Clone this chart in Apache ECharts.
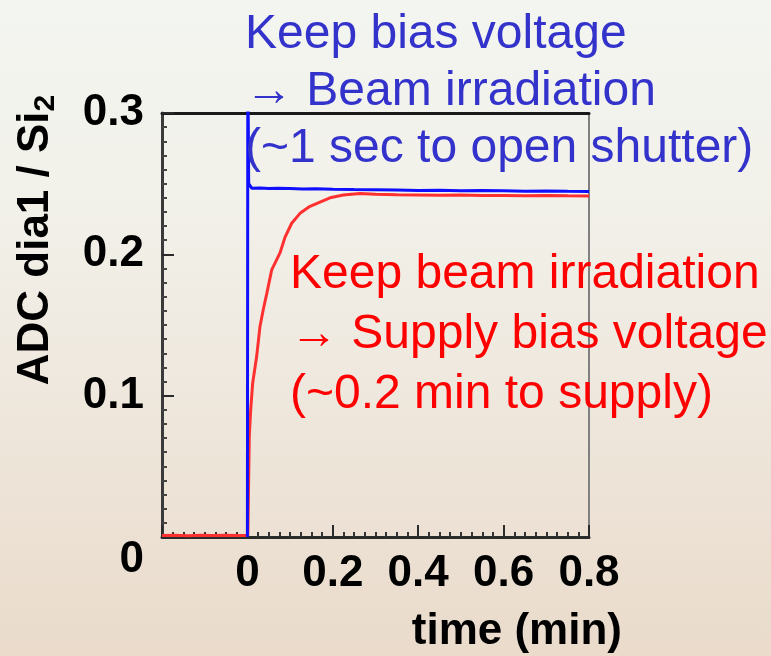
<!DOCTYPE html>
<html>
<head>
<meta charset="utf-8">
<script src="https://cdn.jsdelivr.net/npm/echarts/dist/echarts.min.js"></script>
<style>
  html, body { margin: 0; padding: 0; }
  body {
    width: 771px; height: 656px; overflow: hidden;
    background: linear-gradient(180deg, #F3F5F0 0%, #F2F1EA 30%, #EEE6DB 65%, #EADBCB 100%);
  }
  #chart { width: 771px; height: 656px; }
</style>
</head>
<body>
<div id="chart"></div>
<script>
// Bias kept on, beam switched on at t = 0 (blue trace)
const timeBias  = [0, 0.001, 0.003, 0.01, 0.03, 0.05, 0.07, 0.10, 0.13, 0.16, 0.20, 0.25, 0.30, 0.35, 0.40, 0.45, 0.50, 0.55, 0.60, 0.65, 0.70, 0.75, 0.80];
const ratioBias = [0, 0.340, 0.250, 0.2468, 0.2470, 0.2466, 0.2468, 0.2465, 0.2462, 0.2464, 0.2460, 0.2458, 0.2457, 0.2455, 0.2452, 0.2453, 0.2450, 0.2451, 0.2449, 0.2447, 0.2448, 0.2446, 0.2445];

// Beam kept on, bias voltage supplied at t = 0 (red trace)
const timeBeam  = [-0.20, -0.17, -0.14, -0.11, -0.08, -0.05, -0.02, 0.001, 0.0044, 0.0077, 0.0124, 0.0218, 0.0295, 0.0372, 0.0452, 0.0569, 0.0763, 0.0880, 0.1037, 0.1232, 0.1466, 0.1700, 0.1934, 0.2246, 0.2635, 0.30, 0.35, 0.40, 0.45, 0.50, 0.55, 0.60, 0.65, 0.70, 0.75, 0.80];
const ratioBeam = [0.0010, 0.0012, 0.0009, 0.0013, 0.0011, 0.0012, 0.0010, 0.0010, 0.071, 0.090, 0.109, 0.128, 0.149, 0.161, 0.172, 0.189, 0.201, 0.212, 0.222, 0.229, 0.234, 0.237, 0.240, 0.242, 0.243, 0.2425, 0.2422, 0.2420, 0.2418, 0.2419, 0.2417, 0.2416, 0.2415, 0.2416, 0.2414, 0.2413];

// Axis ranges and tick labels
const timeRange  = [-0.2, 0.8];
const timeStep   = 0.2;
const ratioRange = [0, 0.3];
const ratioStep  = 0.1;

const xTitle = 'time (min)';
const yTitleMain = 'ADC dia1 / Si';
const yTitleSub = '2';
const blueNote = ['Keep bias voltage', '\u2192 Beam irradiation', '(~1 sec to open shutter)'];
const redNote  = ['Keep beam irradiation', '\u2192 Supply bias voltage', '(~0.2 min to supply)'];

const FONT = '"Liberation Sans", Arial, Helvetica, sans-serif';
const zip = (xs, ys) => xs.map((x, i) => [x, ys[i]]);

const chart = echarts.init(document.getElementById('chart'), null, { renderer: 'canvas' });

const labelStyle = { fontFamily: FONT, fontWeight: 'bold', fontSize: 44, color: '#000', lineHeight: 44 };

chart.setOption({
  backgroundColor: 'transparent',
  animation: false,
  grid: { left: 162, top: 113, right: 182, bottom: 119, containLabel: false },
  xAxis: [
    {
      type: 'value', min: timeRange[0], max: timeRange[1], interval: timeStep,
      position: 'bottom',
      axisLine: { show: true, onZero: false, lineStyle: { color: '#2a2a2a', width: 3 } },
      axisTick: { show: true, inside: true, length: 12, lineStyle: { color: '#2a2a2a', width: 2 } },
      minorTick: { show: true, splitNumber: 8, length: 5, lineStyle: { color: '#333', width: 2 } },
      splitLine: { show: false },
      axisLabel: Object.assign({ margin: 15, showMinLabel: false, showMaxLabel: true,
        formatter: v => (Math.abs(v) < 1e-9 ? '0' : String(+v.toFixed(1))) }, labelStyle)
    },
    {
      type: 'value', min: timeRange[0], max: timeRange[1], position: 'top',
      axisLine: { show: true, onZero: false, lineStyle: { color: '#1a1a1a', width: 3 } },
      axisTick: { show: false }, axisLabel: { show: false }, splitLine: { show: false }
    }
  ],
  yAxis: [
    {
      type: 'value', min: ratioRange[0], max: ratioRange[1], interval: ratioStep,
      position: 'left',
      axisLine: { show: true, onZero: false, lineStyle: { color: '#3a3a3a', width: 3 } },
      axisTick: { show: true, inside: true, length: 12, lineStyle: { color: '#2a2a2a', width: 2 } },
      minorTick: { show: true, splitNumber: 10, length: 5, lineStyle: { color: '#444', width: 2 } },
      splitLine: { show: false },
      axisLabel: Object.assign({ margin: 18,
        formatter: v => (Math.abs(v) < 1e-9 ? '{z|0}' : String(+v.toFixed(1))),
        rich: { z: Object.assign({ padding: [46, 0, 0, 0] }, labelStyle) } }, labelStyle)
    },
    {
      type: 'value', min: ratioRange[0], max: ratioRange[1], position: 'right',
      axisLine: { show: true, onZero: false, lineStyle: { color: '#808080', width: 2 } },
      axisTick: { show: false }, axisLabel: { show: false }, splitLine: { show: false }
    }
  ],
  series: [
    {
      name: 'beam on, bias kept', type: 'line', xAxisIndex: 0, yAxisIndex: 0,
      data: zip(timeBias, ratioBias), showSymbol: false, clip: true, z: 3,
      lineStyle: { color: '#1010ff', width: 3 }
    },
    {
      name: 'bias on, beam kept', type: 'line', xAxisIndex: 0, yAxisIndex: 0,
      data: zip(timeBeam, ratioBeam), showSymbol: false, clip: true, z: 2,
      lineStyle: { color: '#ff3030', width: 3 }
    }
  ],
  graphic: [
    {
      type: 'text', x: 622, y: 632, z: 10,
      style: { text: xTitle, fill: '#000', font: 'bold 44px ' + FONT, align: 'right', verticalAlign: 'middle' }
    },
    {
      type: 'text', x: 36, y: 240, rotation: Math.PI / 2, z: 10,
      style: {
        text: '{m|' + yTitleMain + '}{s|' + yTitleSub + '}',
        align: 'center', verticalAlign: 'middle',
        rich: {
          m: { fontFamily: FONT, fontWeight: 'bold', fontSize: 44, lineHeight: 50, fill: '#000', verticalAlign: 'middle' },
          s: { fontFamily: FONT, fontWeight: 'bold', fontSize: 30, fill: '#000', verticalAlign: 'bottom' }
        }
      }
    },
    {
      type: 'text', x: 245, y: 6, z: 20,
      style: { text: blueNote.join('\n'), fill: '#3333cc', font: '48px ' + FONT, lineHeight: 57, align: 'left', verticalAlign: 'top' }
    },
    {
      type: 'text', x: 290, y: 245, z: 20,
      style: { text: redNote.join('\n'), fill: '#ff0000', font: '48px ' + FONT, lineHeight: 60, align: 'left', verticalAlign: 'top' }
    }
  ]
});
</script>
</body>
</html>
